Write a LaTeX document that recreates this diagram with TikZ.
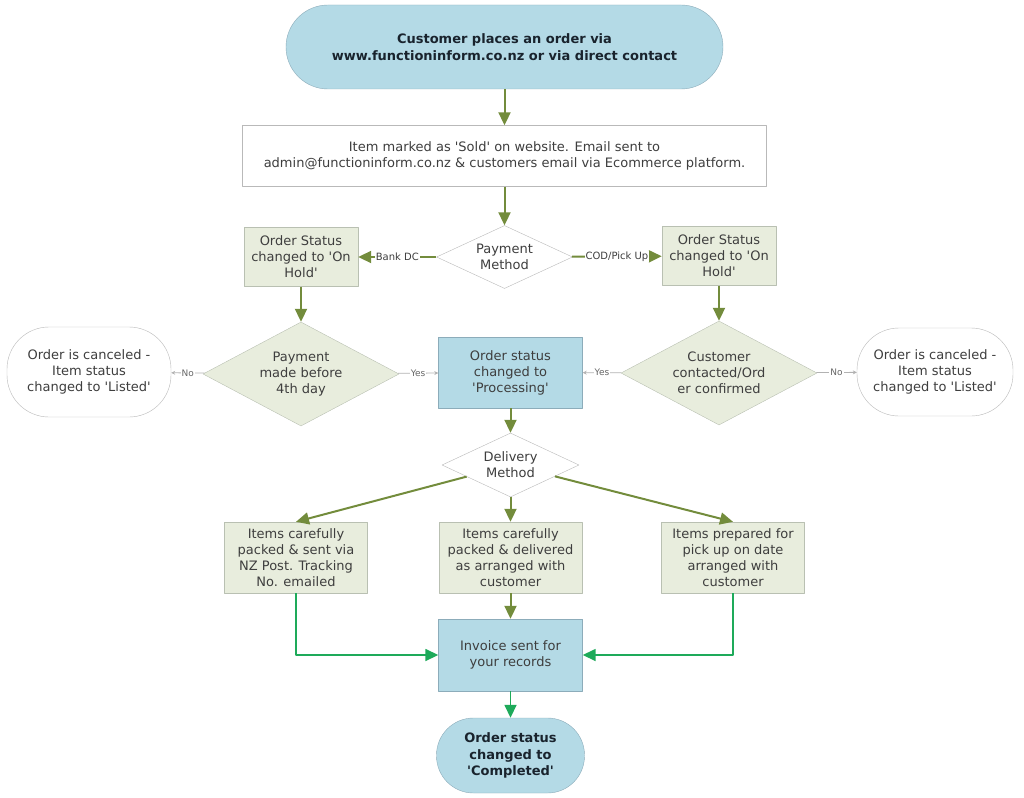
\documentclass[tikz,border=0pt]{standalone}
\usepackage{fontspec}
\setmainfont{DejaVu Sans}
\usetikzlibrary{shapes.geometric,arrows.meta}
\definecolor{boxblue}{RGB}{180,218,230}
\definecolor{blueline}{RGB}{140,172,186}
\definecolor{boxgreen}{RGB}{232,237,221}
\definecolor{greenline}{RGB}{185,192,178}
\definecolor{olive}{RGB}{115,140,60}
\definecolor{flowgreen}{RGB}{30,170,90}
\definecolor{txt}{RGB}{62,62,62}
\definecolor{dark}{RGB}{25,35,45}
\newcommand{\sq}{\textquotesingle}
\begin{document}
\begin{tikzpicture}[x=1pt,y=1pt,line join=round,font=\fontsize{13}{16}\selectfont,
	base/.style={align=center,text=txt,inner sep=2pt},
	proc/.style={base,draw=greenline,fill=boxgreen,minimum width=143pt,minimum height=71pt},
	info/.style={base,draw=gray!55,fill=white},
	hub/.style={base,draw=blueline,fill=boxblue,minimum width=144pt,minimum height=72pt},
	term/.style={base,draw=blueline,fill=boxblue,rounded corners=#1,text=dark,font=\bfseries\fontsize{13}{16.5}\selectfont},
	ask/.style={base,diamond,aspect=2,inner sep=0pt,draw=gray!55,fill=white},
	chk/.style={base,diamond,aspect=2,inner sep=0pt,draw=greenline,fill=boxgreen,minimum width=196pt,minimum height=104pt},
	flow/.style={olive,line width=2pt,-{Triangle[length=13pt,width=12pt]}},
	done/.style={flowgreen,line width=1.6pt,-{Triangle[length=13pt,width=12pt]}},
	yn/.style={gray!60,line width=0.8pt,-{Stealth[length=4pt,width=4pt]}},
	lbl/.style={fill=white,inner sep=1pt,text=txt,font=\fontsize{10}{11}\selectfont},
	ynl/.style={lbl,font=\fontsize{9}{10}\selectfont,text=gray!80!black}]
	\useasboundingbox (0,0) rectangle (1024,-797);
	\node[term=42pt,minimum width=437pt,minimum height=84pt] (order) at (504.5,-47) {Customer places an order via\\www.functioninform.co.nz or via direct contact};
	\node[info,minimum width=524pt,minimum height=61pt] (mail) at (504.5,-156) {Item marked as \sq Sold\sq{} on website. Email sent to\\admin@functioninform.co.nz \& customers email via Ecommerce platform.};
	\node[ask,minimum width=136pt,minimum height=63pt] (pay) at (504.5,-257) {Payment\\Method};
	\node[proc,minimum width=114pt,minimum height=59pt] (holdL) at (301,-257) {Order Status\\changed to \sq On\\Hold\sq};
	\node[proc,minimum width=114pt,minimum height=59pt] (holdR) at (719,-256) {Order Status\\changed to \sq On\\Hold\sq};
	\node[chk] (paid) at (301,-374) {Payment\\made before\\4th day};
	\node[hub,minimum height=71pt] (proc) at (510.5,-372.5) {Order status\\changed to\\\sq Processing\sq};
	\node[chk] (conf) at (719,-373) {Customer\\contacted/Ord\\er confirmed};
	\node[info,rounded corners=42pt,minimum width=164pt,minimum height=90pt] (cancL) at (89,-372) {Order is canceled -\\Item status\\changed to \sq Listed\sq};
	\node[info,rounded corners=42pt,minimum width=156pt,minimum height=88pt] (cancR) at (935,-372) {Order is canceled -\\Item status\\changed to \sq Listed\sq};
	\node[ask,minimum width=137pt,minimum height=64pt] (ship) at (510.5,-465) {Delivery\\Method};
	\node[proc] (post) at (296,-557.5) {Items carefully\\packed \& sent via\\NZ Post. Tracking\\No. emailed};
	\node[proc] (deliv) at (510.5,-557.5) {Items carefully\\packed \& delivered\\as arranged with\\customer};
	\node[proc] (pick) at (733,-557.5) {Items prepared for\\pick up on date\\arranged with\\customer};
	\node[hub] (inv) at (510.5,-655) {Invoice sent for\\your records};
	\node[term=37pt,minimum width=148pt,minimum height=75pt] (fin) at (510.5,-755.5) {Order status\\changed to\\\sq Completed\sq};
	\draw[flow] (order) -- (mail);
	\draw[flow] (mail) -- (pay);
	\draw[flow] (pay) -- node[lbl]{Bank DC} (holdL);
	\draw[flow] (pay) -- node[lbl]{COD/Pick Up} (holdR);
	\draw[flow] (holdL) -- (paid);
	\draw[flow] (holdR) -- (conf);
	\draw[yn] (paid) -- node[ynl]{No} (cancL);
	\draw[yn] (paid) -- node[ynl]{Yes} (proc);
	\draw[yn] (conf) -- node[ynl]{Yes} (proc);
	\draw[yn] (conf) -- node[ynl]{No} (cancR);
	\draw[flow] (proc) -- (ship);
	\draw[flow] (ship) -- (post.north);
	\draw[flow] (ship) -- (deliv);
	\draw[flow] (ship) -- (pick.north);
	\draw[flow] (deliv) -- (inv);
	\draw[done] (post) |- (inv);
	\draw[done] (pick) |- (inv);
	\draw[done] (inv) -- (fin);
\end{tikzpicture}
\end{document}
